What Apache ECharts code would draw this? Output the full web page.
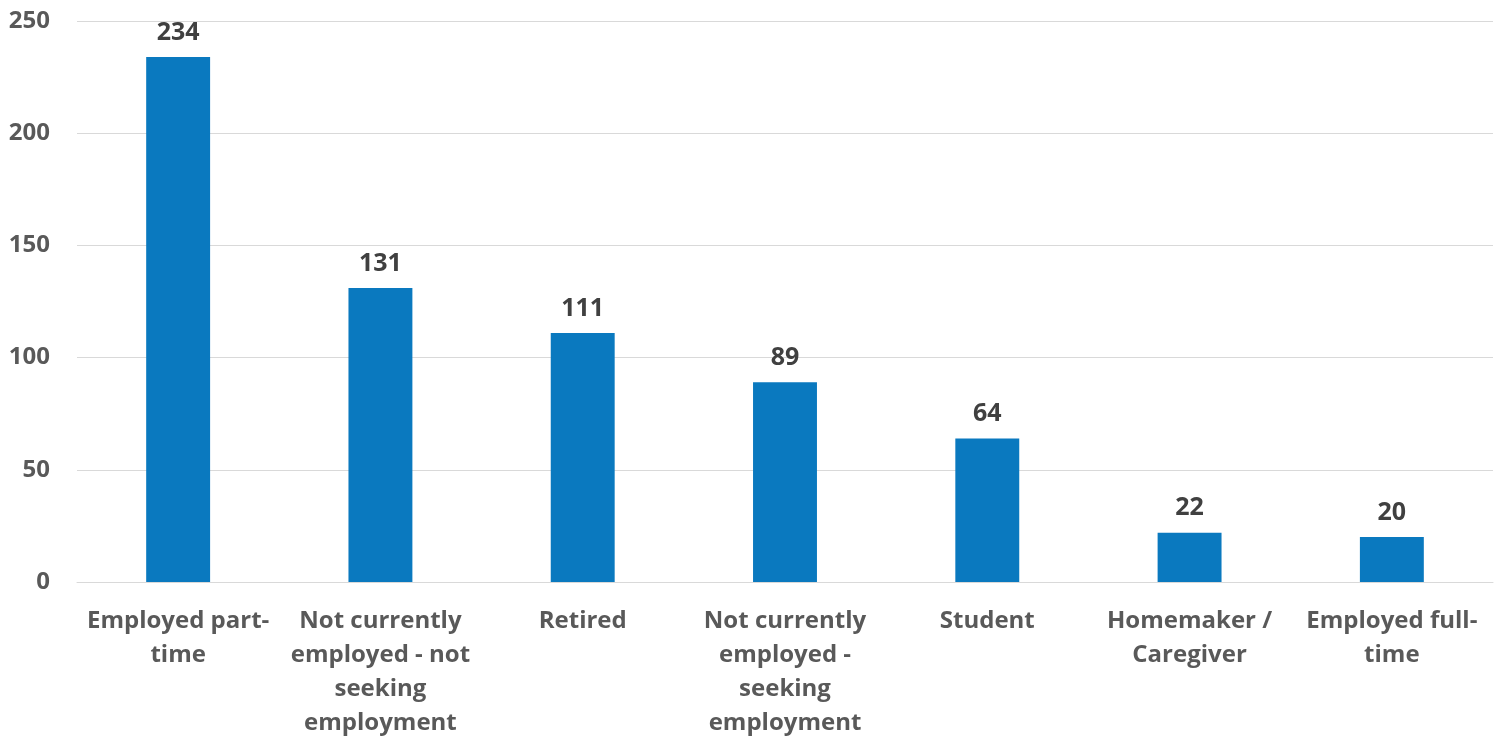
<!DOCTYPE html>
<html>
<head>
<meta charset="utf-8">
<script src="https://cdn.jsdelivr.net/npm/echarts@6/dist/echarts.min.js"></script>
<style>
  html, body { margin: 0; padding: 0; background: #fff; }
  #chart { width: 1501px; height: 740px; }
</style>
</head>
<body>
<div id="chart"></div>
<script>
var categories = [
  'Employed part-\ntime',
  'Not currently\nemployed - not\nseeking\nemployment',
  'Retired',
  'Not currently\nemployed -\nseeking\nemployment',
  'Student',
  'Homemaker /\nCaregiver',
  'Employed full-\ntime'
];
var counts = [234, 131, 111, 89, 64, 22, 20];
var yTicks = [0, 50, 100, 150, 200, 250];

var myChart = echarts.init(document.getElementById('chart'));
var option = {
  backgroundColor: '#fff',
  animation: false,
  grid: { left: 77, right: 8, top: 21, bottom: 152, containLabel: false },
  xAxis: {
    type: 'category',
    data: categories,
    axisLine: { show: true, lineStyle: { color: '#d9d9d9', width: 1 } },
    axisTick: { show: false },
    axisLabel: {
      interval: 0,
      margin: 22,
      color: '#595959',
      fontFamily: 'Open Sans',
      fontWeight: 'bold',
      fontSize: 24,
      lineHeight: 34
    }
  },
  yAxis: {
    type: 'value',
    min: yTicks[0],
    max: yTicks[yTicks.length - 1],
    interval: 50,
    axisLine: { show: false },
    axisTick: { show: false },
    splitLine: { lineStyle: { color: '#d9d9d9', width: 1 } },
    axisLabel: {
      margin: 27,
      color: '#595959',
      fontFamily: 'Open Sans',
      fontWeight: 'bold',
      fontSize: 24
    }
  },
  series: [{
    type: 'bar',
    data: counts,
    barWidth: '31.6%',
    itemStyle: { color: '#0a79bf' },
    label: {
      show: true,
      position: 'top',
      distance: 12,
      color: '#404040',
      fontFamily: 'Open Sans',
      fontWeight: 'bold',
      fontSize: 25
    }
  }]
};
myChart.setOption(option);
</script>
</body>
</html>
